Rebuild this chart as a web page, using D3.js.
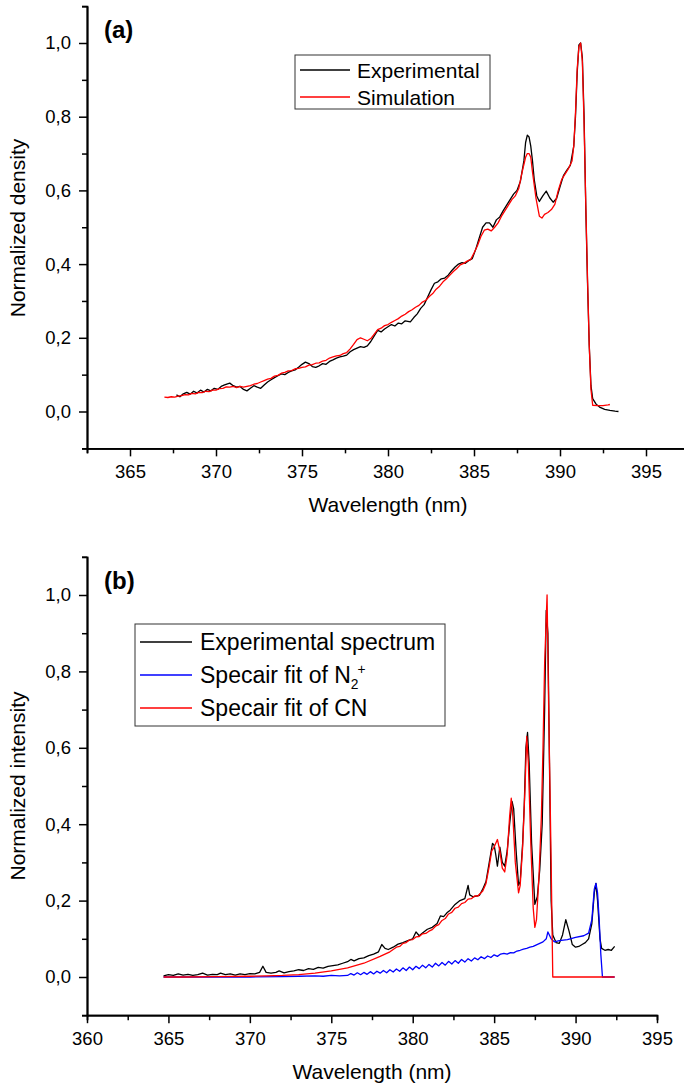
<!DOCTYPE html>
<html>
<head>
<meta charset="utf-8">
<script src="https://cdnjs.cloudflare.com/ajax/libs/d3/7.8.5/d3.min.js"></script>
<style>
body { margin: 0; background: #fff; }
svg text { font-family: "Liberation Sans", Arial, sans-serif; fill: #000; }
</style>
</head>
<body>
<svg id="chart" width="684" height="1084"></svg>
<script>
// ---- panel (a): wavelength (nm), normalized density ----
var expA = [
  [367.7,0.045],[367.9,0.040],[368.1,0.048],[368.3,0.052],[368.5,0.047],[368.7,0.055],
  [368.9,0.050],[369.1,0.058],[369.3,0.053],[369.5,0.060],[369.7,0.056],[369.9,0.063],
  [370.1,0.060],[370.3,0.068],[370.5,0.072],[370.8,0.077],[371.0,0.070],[371.2,0.066],
  [371.4,0.068],[371.6,0.060],[371.8,0.056],[372.0,0.063],[372.2,0.070],[372.4,0.066],
  [372.6,0.063],[372.8,0.072],[373.0,0.080],[373.2,0.086],[373.4,0.092],[373.6,0.097],
  [373.8,0.102],[374.0,0.100],[374.2,0.106],[374.4,0.110],[374.6,0.113],[374.8,0.120],
  [375.0,0.128],[375.2,0.134],[375.4,0.130],[375.6,0.122],[375.8,0.120],[376.0,0.124],
  [376.2,0.130],[376.4,0.128],[376.6,0.136],[376.8,0.140],[377.0,0.145],[377.2,0.148],
  [377.4,0.150],[377.6,0.153],[377.8,0.162],[378.0,0.168],[378.2,0.172],[378.4,0.176],
  [378.6,0.174],[378.8,0.178],[379.0,0.190],[379.2,0.205],[379.4,0.220],[379.6,0.216],
  [379.8,0.224],[380.0,0.230],[380.2,0.236],[380.4,0.232],[380.6,0.240],[380.8,0.238],
  [381.0,0.246],[381.3,0.243],[381.5,0.255],[381.7,0.265],[381.9,0.280],[382.1,0.290],
  [382.3,0.310],[382.5,0.330],[382.7,0.348],[382.9,0.352],[383.1,0.360],[383.3,0.362],
  [383.5,0.370],[383.7,0.382],[383.9,0.392],[384.1,0.400],[384.3,0.404],[384.5,0.402],
  [384.7,0.410],[384.9,0.415],[385.1,0.440],[385.3,0.470],[385.5,0.500],[385.7,0.512],
  [385.9,0.512],[386.1,0.500],[386.3,0.520],[386.5,0.528],[386.7,0.545],[386.9,0.560],
  [387.1,0.575],[387.3,0.590],[387.5,0.600],[387.7,0.625],[387.9,0.680],[388.0,0.730],
  [388.1,0.750],[388.2,0.745],[388.3,0.720],[388.4,0.680],[388.5,0.630],[388.65,0.585],
  [388.8,0.570],[389.0,0.585],[389.2,0.598],[389.4,0.580],[389.6,0.568],[389.8,0.578],
  [390.0,0.610],[390.2,0.640],[390.4,0.655],[390.6,0.668],[390.8,0.720],[390.9,0.800],
  [391.0,0.920],[391.1,0.995],[391.2,1.000],[391.3,0.960],[391.4,0.800],[391.5,0.550],
  [391.6,0.350],[391.7,0.180],[391.8,0.070],[391.9,0.035],[392.1,0.020],[392.3,0.012],
  [392.6,0.006],[392.9,0.003],[393.2,0.001],[393.4,0.000]
];
var simA = [
  [367.0,0.039],[367.2,0.038],[367.4,0.040],[367.6,0.039],[367.8,0.042],[368.0,0.043],
  [368.2,0.046],[368.4,0.045],[368.6,0.049],[368.8,0.048],[369.0,0.052],[369.2,0.051],
  [369.4,0.055],[369.6,0.054],[369.8,0.058],[370.0,0.058],[370.2,0.062],[370.4,0.063],
  [370.6,0.067],[370.8,0.066],[371.0,0.068],[371.2,0.065],[371.4,0.068],[371.6,0.066],
  [371.8,0.068],[372.0,0.070],[372.2,0.074],[372.4,0.076],[372.6,0.080],[372.8,0.084],
  [373.0,0.088],[373.2,0.090],[373.4,0.096],[373.6,0.098],[373.8,0.104],[374.0,0.106],
  [374.2,0.110],[374.4,0.111],[374.6,0.116],[374.8,0.117],[375.0,0.120],[375.2,0.121],
  [375.4,0.126],[375.6,0.127],[375.8,0.131],[376.0,0.132],[376.2,0.137],[376.4,0.139],
  [376.6,0.145],[376.8,0.148],[377.0,0.151],[377.2,0.152],[377.4,0.157],[377.6,0.160],
  [377.8,0.170],[378.0,0.182],[378.2,0.195],[378.4,0.200],[378.6,0.196],[378.8,0.192],
  [379.0,0.198],[379.2,0.210],[379.4,0.222],[379.6,0.226],[379.8,0.233],[380.0,0.236],
  [380.2,0.242],[380.4,0.247],[380.6,0.252],[380.8,0.259],[381.0,0.264],[381.2,0.271],
  [381.4,0.276],[381.6,0.283],[381.8,0.288],[382.0,0.297],[382.2,0.302],[382.4,0.312],
  [382.6,0.320],[382.8,0.332],[383.0,0.340],[383.2,0.352],[383.4,0.360],[383.6,0.370],
  [383.8,0.380],[384.0,0.388],[384.2,0.398],[384.4,0.402],[384.6,0.408],[384.8,0.412],
  [385.0,0.430],[385.2,0.450],[385.4,0.475],[385.6,0.492],[385.8,0.495],[386.0,0.490],
  [386.2,0.500],[386.4,0.512],[386.6,0.530],[386.8,0.545],[387.0,0.560],[387.2,0.575],
  [387.4,0.585],[387.6,0.605],[387.8,0.650],[388.0,0.690],[388.1,0.700],[388.2,0.700],
  [388.3,0.690],[388.4,0.650],[388.6,0.580],[388.8,0.530],[388.95,0.525],[389.1,0.535],
  [389.3,0.540],[389.5,0.548],[389.7,0.562],[389.9,0.600],[390.1,0.630],[390.3,0.645],
  [390.5,0.660],[390.7,0.680],[390.8,0.720],[390.9,0.810],[391.0,0.930],[391.1,0.990],
  [391.2,1.000],[391.3,0.950],[391.4,0.780],[391.5,0.560],[391.6,0.360],[391.7,0.180],
  [391.8,0.060],[391.9,0.017],[392.2,0.016],[392.5,0.016],[392.8,0.018],[392.9,0.019]
];

// ---- panel (b): wavelength (nm), normalized intensity ----
var expB = [
  [364.7,0.003],[365.0,0.006],[365.3,0.004],[365.6,0.008],[365.9,0.005],[366.2,0.007],
  [366.5,0.004],[366.8,0.006],[367.1,0.010],[367.4,0.005],[367.7,0.007],[368.0,0.006],
  [368.2,0.010],[368.5,0.006],[368.8,0.008],[369.1,0.005],[369.4,0.008],[369.7,0.006],
  [370.0,0.009],[370.3,0.008],[370.6,0.012],[370.8,0.028],[371.0,0.012],[371.3,0.010],
  [371.6,0.012],[371.8,0.016],[372.1,0.011],[372.4,0.014],[372.7,0.016],[373.0,0.019],
  [373.3,0.017],[373.6,0.022],[373.9,0.020],[374.2,0.025],[374.5,0.023],[374.8,0.028],
  [375.1,0.030],[375.4,0.032],[375.7,0.036],[376.0,0.040],[376.2,0.046],[376.4,0.042],
  [376.7,0.048],[377.0,0.050],[377.3,0.056],[377.6,0.060],[377.9,0.066],[378.1,0.085],
  [378.3,0.075],[378.5,0.072],[378.8,0.078],[379.1,0.086],[379.4,0.090],[379.7,0.095],
  [380.0,0.100],[380.2,0.118],[380.4,0.108],[380.6,0.115],[380.9,0.125],[381.2,0.130],
  [381.5,0.140],[381.7,0.160],[381.9,0.158],[382.1,0.168],[382.3,0.175],[382.6,0.190],
  [382.9,0.200],[383.2,0.205],[383.4,0.240],[383.5,0.215],[383.7,0.210],[383.9,0.212],
  [384.1,0.214],[384.3,0.230],[384.5,0.250],[384.7,0.300],[384.9,0.350],[385.0,0.345],
  [385.1,0.320],[385.2,0.290],[385.35,0.340],[385.5,0.300],[385.65,0.290],[385.8,0.330],
  [385.95,0.400],[386.1,0.460],[386.2,0.440],[386.35,0.330],[386.5,0.240],[386.6,0.250],
  [386.75,0.350],[386.85,0.450],[386.95,0.600],[387.05,0.640],[387.15,0.560],[387.3,0.350],
  [387.5,0.190],[387.65,0.210],[387.8,0.280],[387.95,0.400],[388.1,0.700],[388.2,0.960],
  [388.3,0.900],[388.4,0.550],[388.5,0.200],[388.6,0.110],[388.8,0.090],[389.0,0.088],
  [389.2,0.110],[389.4,0.150],[389.6,0.120],[389.8,0.085],[390.0,0.078],[390.2,0.080],
  [390.4,0.085],[390.6,0.090],[390.8,0.100],[391.0,0.140],[391.15,0.220],[391.25,0.245],
  [391.35,0.200],[391.5,0.100],[391.6,0.075],[391.8,0.070],[392.0,0.072],[392.2,0.070],
  [392.4,0.080]
];
var n2B = [
  [364.7,0.000],[370.0,0.000],[372.0,0.001],[373.0,0.002],[374.0,0.003],[374.5,0.002],
  [375.0,0.004],[375.5,0.003],[376.0,0.004],[376.2,0.009],[376.4,0.005],[376.6,0.011],
  [376.8,0.006],[377.0,0.012],[377.2,0.007],[377.4,0.014],[377.6,0.008],[377.8,0.015],
  [378.0,0.010],[378.2,0.017],[378.4,0.011],[378.6,0.019],[378.8,0.013],[379.0,0.021],
  [379.2,0.015],[379.4,0.024],[379.6,0.017],[379.8,0.026],[380.0,0.019],[380.2,0.028],
  [380.4,0.022],[380.6,0.031],[380.8,0.024],[381.0,0.033],[381.2,0.026],[381.4,0.036],
  [381.6,0.029],[381.8,0.038],[382.0,0.031],[382.2,0.041],[382.4,0.034],[382.6,0.043],
  [382.8,0.036],[383.0,0.046],[383.2,0.039],[383.4,0.048],[383.6,0.042],[383.8,0.050],
  [384.0,0.045],[384.2,0.053],[384.4,0.048],[384.6,0.055],[384.8,0.051],[385.0,0.058],
  [385.2,0.054],[385.4,0.060],[385.6,0.062],[385.8,0.060],[386.0,0.064],[386.2,0.063],
  [386.4,0.068],[386.6,0.070],[386.8,0.073],[387.0,0.075],[387.2,0.078],[387.4,0.080],
  [387.6,0.084],[387.8,0.088],[388.0,0.092],[388.2,0.100],[388.3,0.118],[388.5,0.100],
  [388.7,0.092],[389.0,0.095],[389.5,0.098],[390.0,0.104],[390.5,0.108],[390.8,0.115],
  [391.0,0.150],[391.15,0.230],[391.25,0.245],[391.35,0.220],[391.45,0.150],[391.55,0.060],
  [391.65,0.000],[392.4,0.000]
];
var cnB = [
  [364.7,0.000],[366.0,0.000],[368.0,0.001],[370.0,0.002],[371.0,0.003],[372.0,0.004],
  [373.0,0.006],[374.0,0.010],[375.0,0.016],[376.0,0.024],[377.0,0.036],[378.0,0.054],
  [378.6,0.066],[379.0,0.078],[379.2,0.080],[379.4,0.088],[379.6,0.090],[379.8,0.097],
  [380.0,0.098],[380.2,0.105],[380.4,0.106],[380.6,0.113],[380.8,0.114],[381.0,0.120],
  [381.2,0.124],[381.4,0.133],[381.6,0.137],[381.8,0.148],[382.0,0.153],[382.2,0.165],
  [382.4,0.169],[382.6,0.180],[382.8,0.183],[383.0,0.192],[383.2,0.195],[383.4,0.204],
  [383.6,0.205],[383.8,0.212],[384.0,0.212],[384.3,0.225],[384.5,0.245],[384.7,0.290],
  [384.85,0.330],[385.0,0.340],[385.2,0.360],[385.35,0.330],[385.5,0.285],[385.65,0.275],
  [385.8,0.320],[385.95,0.420],[386.05,0.468],[386.15,0.420],[386.3,0.300],[386.5,0.220],
  [386.6,0.240],[386.75,0.340],[386.9,0.500],[387.0,0.630],[387.1,0.560],[387.25,0.350],
  [387.4,0.180],[387.5,0.130],[387.6,0.150],[387.75,0.260],[387.9,0.420],[388.0,0.600],
  [388.1,0.820],[388.25,1.000],[388.35,0.700],[388.5,0.300],[388.6,0.000],[390.0,0.000],
  [392.4,0.000]
];

// ---- ticks ----
var yMajor = [0, 0.2, 0.4, 0.6, 0.8, 1.0];
var yMinor = [-0.1, 0.1, 0.3, 0.5, 0.7, 0.9, 1.1];
var xMajorA = [365, 370, 375, 380, 385, 390, 395];
var xMinorA = [362.5, 367.5, 372.5, 377.5, 382.5, 387.5, 392.5, 397.5];
var xMajorB = [360, 365, 370, 375, 380, 385, 390, 395];
var xMinorB = [362.5, 367.5, 372.5, 377.5, 382.5, 387.5, 392.5];

var svg = d3.select("#chart");
var fmt = function(v) { return d3.format(".1f")(v).replace(".", ","); };

function drawPanel(p) {
  var x = d3.scaleLinear().domain(p.xDomain).range(p.xRange);
  var y = d3.scaleLinear().domain([-0.1, 1.1]).range(p.yRange);
  var g = svg.append("g");

  var line = d3.line()
    .x(function(d) { return x(d[0]); })
    .y(function(d) { return y(d[1]); });

  p.series.forEach(function(s) {
    g.append("path")
      .datum(s.data)
      .attr("fill", "none")
      .attr("stroke", s.color)
      .attr("stroke-width", 1.3)
      .attr("stroke-linejoin", "round")
      .attr("d", line);
  });

  // minor ticks
  g.append("g")
    .attr("transform", "translate(0," + p.yRange[0] + ")")
    .call(d3.axisBottom(x).tickValues(p.xMinor).tickSize(5).tickFormat(""));
  g.append("g")
    .attr("transform", "translate(" + p.xRange[0] + ",0)")
    .call(d3.axisLeft(y).tickValues(yMinor).tickSize(5).tickFormat(""));

  // major axes
  var xa = g.append("g")
    .attr("transform", "translate(0," + p.yRange[0] + ")")
    .call(d3.axisBottom(x).tickValues(p.xMajor).tickSize(8).tickSizeOuter(0).tickPadding(9).tickFormat(d3.format("d")));
  var ya = g.append("g")
    .attr("transform", "translate(" + p.xRange[0] + ",0)")
    .call(d3.axisLeft(y).tickValues(yMajor).tickSize(8).tickSizeOuter(0).tickPadding(8).tickFormat(fmt));

  g.selectAll(".domain").attr("stroke", "#000").attr("stroke-width", 1.8);
  g.selectAll(".tick line").attr("stroke", "#000").attr("stroke-width", 1.5);
  g.selectAll(".tick text")
    .attr("font-family", "'Liberation Sans', Arial, sans-serif")
    .attr("font-size", 18.5).attr("fill", "#000");

  // titles
  g.append("text")
    .attr("x", (p.xRange[0] + p.xRange[1]) / 2 + p.xTitleShift)
    .attr("y", p.xTitleY)
    .attr("text-anchor", "middle")
    .attr("font-size", 21)
    .text("Wavelength (nm)");
  g.append("text")
    .attr("transform", "translate(25," + p.yTitleY + ") rotate(-90)")
    .attr("text-anchor", "middle")
    .attr("font-size", 21)
    .text(p.yTitle);
  g.append("text")
    .attr("x", 104).attr("y", p.tagY)
    .attr("font-size", 24).attr("font-weight", "bold")
    .text(p.tag);

  // legend
  var L = p.legend;
  g.append("rect")
    .attr("x", L.x).attr("y", L.y).attr("width", L.w).attr("height", L.h)
    .attr("fill", "#fff").attr("stroke", "#333").attr("stroke-width", 1);
  L.items.forEach(function(it, i) {
    var cy = L.y + L.first + i * L.step;
    g.append("line")
      .attr("x1", L.x + 5).attr("x2", L.x + 5 + L.sample)
      .attr("y1", cy).attr("y2", cy)
      .attr("stroke", it.color).attr("stroke-width", 1.5);
    var t = g.append("text")
      .attr("x", L.x + L.textDx).attr("y", cy + L.fs * 0.36)
      .attr("font-size", L.fs);
    t.append("tspan").text(it.label);
    if (it.sub) {
      t.append("tspan").attr("font-size", L.fs * 0.6).attr("dy", 6).text(it.sub);
      t.append("tspan").attr("font-size", L.fs * 0.6).attr("dy", -15).attr("dx", -1).text(it.sup);
    }
  });
}

drawPanel({
  xDomain: [362.5, 397.5], xRange: [87, 689], yRange: [448.35, 6.15],
  xMajor: xMajorA, xMinor: xMinorA,
  xTitleY: 512, xTitleShift: 0, yTitleY: 228, yTitle: "Normalized density",
  tag: "(a)", tagY: 38,
  series: [{data: expA, color: "#000"}, {data: simA, color: "#ff0000"}],
  legend: {x: 295, y: 55, w: 195, h: 54, first: 15, step: 27, sample: 50, textDx: 62, fs: 21,
    items: [{label: "Experimental", color: "#000"}, {label: "Simulation", color: "#ff0000"}]}
});

drawPanel({
  xDomain: [360, 395], xRange: [87, 657], yRange: [1015.2, 556.8],
  xMajor: xMajorB, xMinor: xMinorB,
  xTitleY: 1079, xTitleShift: 0, yTitleY: 786, yTitle: "Normalized intensity",
  tag: "(b)", tagY: 589,
  series: [{data: expB, color: "#000"}, {data: n2B, color: "#0000ff"}, {data: cnB, color: "#ff0000"}],
  legend: {x: 135, y: 624, w: 310, h: 102, first: 18, step: 33, sample: 52, textDx: 65, fs: 23,
    items: [{label: "Experimental spectrum", color: "#000"},
            {label: "Specair fit of N", sub: "2", sup: "+", color: "#0000ff"},
            {label: "Specair fit of CN", color: "#ff0000"}]}
});
</script>
</body>
</html>
